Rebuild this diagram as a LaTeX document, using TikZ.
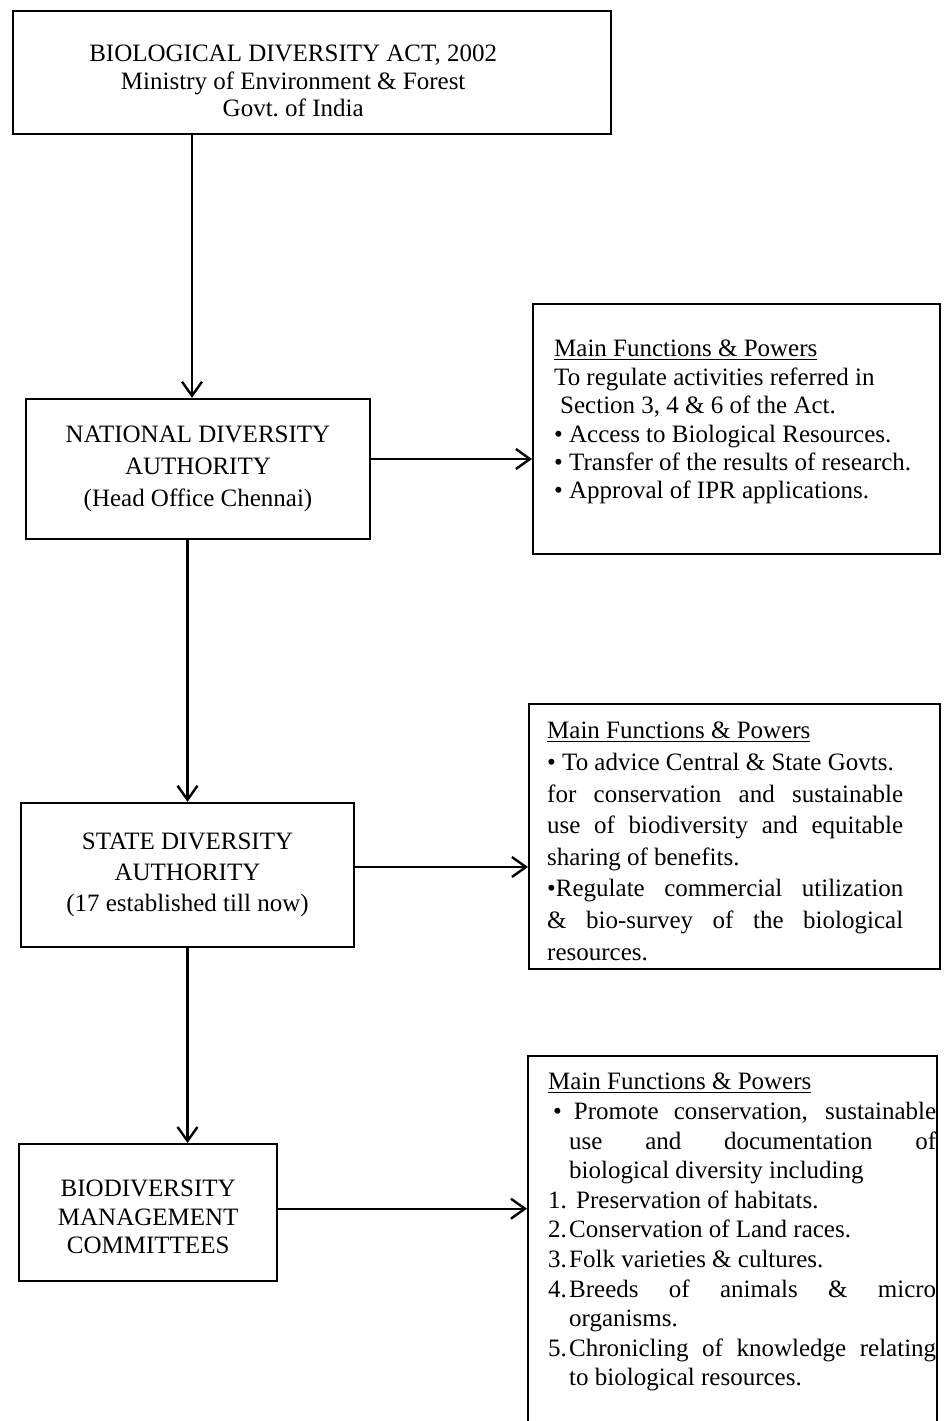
\documentclass[tikz,border=0pt]{standalone}
\usepackage{fontspec}
\setmainfont{Liberation Serif}
\usepackage{tikz}
\usetikzlibrary{arrows.meta}

\newcommand{\spreadline}[2]{\makebox[#1][s]{#2}}
\newcommand{\powershead}{\underline{Main Functions \& Powers}}
\newcommand{\boxbody}[6]{\parbox[c][#2][t]{#1}{\fontsize{12.5}{#5}\selectfont\leftskip=#3\relax\vspace*{#4}#6}}

\begin{document}
\begin{tikzpicture}
    [x=0.5pt, y=-0.5pt,
     framed/.style={draw, line width=1.2pt, inner sep=0pt},
     orgbox/.style={framed, align=center, font=\fontsize{12.5}{15.5}\selectfont},
     flow/.style={line width=1.2pt, -{Straight Barb[length=7pt, width=10pt]}}]
    \useasboundingbox (0, 0) rectangle (947, 1421);
    \clip (0, 0) rectangle (947, 1421);

    \node (act) [framed, anchor=north west] at (12, 10) {
      \boxbody{299pt}{61.5pt}{0pt}{17pt}{13.75pt}{\centering\rightskip=19pt plus 1fil
        BIOLOGICAL DIVERSITY ACT, 2002\\
        Ministry of Environment \& Forest\\
        Govt.\ of India}
    };

    \node (natl) [orgbox, minimum width=172pt, minimum height=70pt,
      font=\fontsize{12.5}{16}\selectfont] at (198, 469) {
      NATIONAL DIVERSITY\\
      AUTHORITY\\
      (Head Office Chennai)
    };
    \node (state) [orgbox, minimum width=166.5pt, minimum height=72pt] at (187.5, 875) {
      STATE DIVERSITY\\
      AUTHORITY\\
      (17 established till now)
    };
    \node (bmc) [framed, anchor=north west] at (18, 1143) {
      \boxbody{129pt}{68.5pt}{0pt}{18pt}{14.3pt}{\centering
        BIODIVERSITY\\
        MANAGEMENT\\
        COMMITTEES}
    };

    \node (natfun) [framed, anchor=north west] at (532, 303) {
      \boxbody{203.5pt}{125pt}{10.5pt}{18pt}{14.2pt}{%
        \powershead\\
        To regulate activities referred in\\
        \hspace*{3pt}Section 3, 4 \& 6 of the Act.\\
        • Access to Biological Resources.\\
        • Transfer of the results of research.\\
        • Approval of IPR applications.}
    };
    \node (statefun) [framed, anchor=north west] at (528, 703) {
      \boxbody{205.5pt}{132.5pt}{9pt}{9pt}{15.8pt}{%
        \powershead\\
        • To advice Central \& State Govts.\\
        \spreadline{178pt}{for conservation and sustainable}\\
        \spreadline{178pt}{use of biodiversity and equitable}\\
        sharing of benefits.\\
        \spreadline{178pt}{•Regulate commercial utilization}\\
        \spreadline{178pt}{\& bio-survey of the biological}\\
        resources.}
    };
    \node (bmcfun) [framed, anchor=north west] at (527, 1055) {
      \boxbody{204.5pt}{200pt}{10pt}{8.5pt}{14.8pt}{%
        \powershead\\
        \spreadline{194pt}{\hspace*{2.5pt}•\hspace{6pt}Promote conservation, sustainable}\\
        \hspace*{10.5pt}\spreadline{183.5pt}{use and documentation of}\\
        \hspace*{10.5pt}biological diversity including\\
        \makebox[10.5pt][l]{1.}\hspace{3.5pt}Preservation of habitats.\\
        \makebox[10.5pt][l]{2.}Conservation of Land races.\\
        \makebox[10.5pt][l]{3.}Folk varieties \& cultures.\\
        \makebox[10.5pt][l]{4.}\spreadline{183.5pt}{Breeds of animals \& micro}\\
        \hspace*{10.5pt}organisms.\\
        \makebox[10.5pt][l]{5.}\spreadline{183.5pt}{Chronicling of knowledge relating}\\
        \hspace*{10.5pt}to biological resources.}
    };

    \draw [flow] ([xshift=-3pt]natl.north |- act.south) -- ([xshift=-3pt]natl.north);
    \draw [flow] (natl.south -| state.north) -- (state.north);
    \draw [flow] (state.south) -- (state.south |- bmc.north);
    \draw [flow] ([yshift=5pt]natl.east) -- ([yshift=5pt]natl.east -| natfun.west);
    \draw [flow] ([yshift=4pt]state.east) -- ([yshift=4pt]state.east -| statefun.west);
    \draw [flow] ([yshift=2pt]bmc.east) -- ([yshift=2pt]bmc.east -| bmcfun.west);
\end{tikzpicture}
\end{document}
